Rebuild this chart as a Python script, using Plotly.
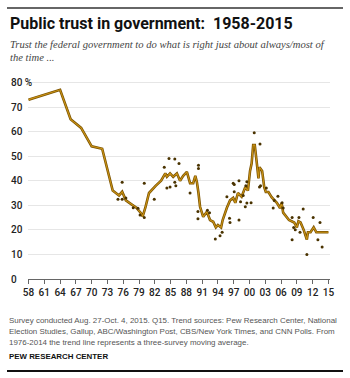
import plotly.graph_objects as go

# ---- data ----
trend_years = [1958, 1964, 1966, 1968, 1970, 1972, 1974, 1975.2, 1975.8, 1976.5, 1977.5, 1978.5,
               1979.3, 1979.7, 1980.2, 1980.9, 1982.2, 1983.2, 1984.0, 1984.3, 1984.9, 1985.5,
               1986.2, 1986.8, 1987.4, 1988.1, 1988.7, 1989.3, 1989.7, 1990.0, 1990.3, 1990.6,
               1991.2, 1991.9, 1992.5, 1993.1, 1993.6, 1994.0, 1994.6, 1994.9, 1995.7, 1996.3,
               1996.9, 1997.3, 1997.8, 1998.5, 1999.2, 1999.7, 2000.1, 2000.4, 2000.7, 2001.0,
               2001.4, 2001.6, 2001.7, 2001.9, 2002.4, 2002.8, 2003.1, 2003.6, 2004.2, 2005.2,
               2005.8, 2006.1, 2006.4, 2007.5, 2008.5, 2009.0, 2009.3, 2009.7, 2010.3, 2010.9,
               2011.1, 2011.6, 2012.2, 2012.7, 2013.5, 2014.0, 2015.0]
trend_values = [73, 77, 65, 61.5, 54, 53, 36, 34, 35.5, 32, 30.5, 29,
                27, 25.5, 29, 35, 38, 40, 43, 41.6, 43, 41.6,
                43, 40, 42, 43.6, 39, 39, 42, 39.5, 35, 29.4,
                25.3, 27.4, 24, 23.3, 21, 22, 21, 24, 29, 32,
                33, 31, 35, 33.5, 37.4, 36, 44, 47, 54.5, 54.5,
                47, 44, 41, 45.5, 44, 37.4, 35.4, 35.4, 33.3, 31,
                28.9, 31, 27, 24, 23, 21, 23.5, 23, 20, 16,
                19, 19, 21, 19, 19, 19, 19]

survey_years = [1975.0, 1975.8, 1975.8, 1976.5, 1977.9, 1978.8, 1979.2, 1980.0, 1980.0, 1981.9,
                1983.8, 1984.3, 1984.7, 1984.9, 1985.8, 1985.8, 1986.0, 1986.6, 1988.7, 1990.3,
                1990.3, 1990.2, 1990.2, 1992.0, 1992.4, 1993.5, 1994.4, 1994.8, 1995.7, 1996.2,
                1996.3, 1996.9, 1997.1, 1997.1, 1998.0, 1998.0, 1998.3, 1998.8, 1999.3, 1999.5,
                1999.5, 1999.2, 2000.3, 2000.9, 2002.0, 2001.9, 2002.1, 2003.2, 2004.5, 2004.7,
                2005.4, 2006.2, 2006.4, 2008.1, 2008.1, 2008.4, 2008.7, 2009.4, 2009.6, 2010.2,
                2010.9, 2012.1, 2013.0, 2013.4, 2013.8]
survey_values = [32.5, 39.4, 32.5, 33, 29, 28.8, 26, 25, 39, 32.5,
                 45.5, 37, 49, 37.4, 48.8, 39.4, 38, 47, 35, 46.3,
                 45, 27.5, 24.5, 28, 27, 16.3, 17.6, 19, 33.5, 24.7,
                 23, 39, 38.5, 35.5, 40, 24, 31.4, 34, 38, 39.6,
                 30.9, 29.4, 31, 59.5, 55, 37.4, 38, 37, 28.9, 32,
                 33.7, 31, 28.9, 25, 16, 21, 20, 25, 19, 28.5,
                 10, 25, 16, 23, 13]

tick_years = list(range(1958, 2016, 3))
tick_labels = ["58", "61", "64", "67", "70", "73", "76", "79", "82", "85",
               "88", "91", "94", "97", "00", "03", "06", "09", "12", "15"]
y_ticks = [0, 10, 20, 30, 40, 50, 60, 70, 80]
y_labels = ["0", "10", "20", "30", "40", "50", "60", "70", "80\u00a0%"]

title = "Public trust in government:\u00a0 1958-2015"
subtitle = ["Trust the federal government to do what is right just about always/most of",
            "the time ..."]
note = ["Survey conducted Aug. 27-Oct. 4, 2015. Q15. Trend sources: Pew Research Center, National",
        "Election Studies, Gallup, ABC/Washington Post, CBS/New York Times, and CNN Polls. From",
        "1976-2014 the trend line represents a three-survey moving average."]
source = "PEW RESEARCH CENTER"

# ---- layout geometry (pixels) ----
W, H = 350, 378
L, R, T, B = 28, 20, 80, 99
PW, PH = W - L - R, H - T - B


def px_x(x):
    return (x - L) / PW


def px_y(y):
    return (H - B - y) / PH


fig = go.Figure()
fig.add_trace(go.Scatter(x=trend_years, y=trend_values, mode="lines",
                         line=dict(color="#7a5200", width=2.6), hoverinfo="skip"))
fig.add_trace(go.Scatter(x=trend_years, y=trend_values, mode="lines",
                         line=dict(color="#c99214", width=1.1), hoverinfo="skip"))
fig.add_trace(go.Scatter(x=survey_years, y=survey_values, mode="markers",
                         marker=dict(color="#4a3300", size=3), hoverinfo="skip"))

ann = []
ann.append(dict(text="<b>" + title + "</b>", x=px_x(8), y=px_y(24), xref="paper", yref="paper",
                xanchor="left", yanchor="middle", showarrow=False,
                font=dict(family="Roboto, sans-serif", size=16, color="#111")))
for i, s in enumerate(subtitle):
    ann.append(dict(text="<i>" + s + "</i>", x=px_x(8), y=px_y(44 + 13 * i), xref="paper", yref="paper",
                    xanchor="left", yanchor="middle", showarrow=False,
                    font=dict(family="Liberation Serif, serif", size=10.6, color="#444")))
for v, lab in zip(y_ticks, y_labels):
    ann.append(dict(text=lab, x=px_x(9), y=v, xref="paper", yref="y",
                    xanchor="left", yanchor="middle", showarrow=False,
                    font=dict(family="Roboto, sans-serif", size=10, color="#222", weight=500)))
for i, s in enumerate(note):
    ann.append(dict(text=s, x=px_x(7), y=px_y(320 + 11 * i), xref="paper", yref="paper",
                    xanchor="left", yanchor="middle", showarrow=False,
                    font=dict(family="Liberation Sans, sans-serif", size=7.95, color="#555")))
ann.append(dict(text="<b>" + source + "</b>", x=px_x(7), y=px_y(356), xref="paper", yref="paper",
                xanchor="left", yanchor="middle", showarrow=False,
                font=dict(family="Liberation Sans, sans-serif", size=7.9, color="#111")))

shapes = [
    dict(type="line", xref="paper", yref="paper", x0=px_x(7), x1=px_x(343), y0=px_y(8), y1=px_y(8),
         line=dict(color="#333", width=1.5)),
    dict(type="line", xref="paper", yref="paper", x0=px_x(7), x1=px_x(343), y0=px_y(371), y1=px_y(371),
         line=dict(color="#111", width=2)),
]

fig.update_layout(
    width=W, height=H, margin=dict(l=L, r=R, t=T, b=B),
    paper_bgcolor="white", plot_bgcolor="white", showlegend=False,
    annotations=ann, shapes=shapes,
    xaxis=dict(range=[1957.9, 2015.3], tickvals=tick_years, ticktext=tick_labels,
               showgrid=False, zeroline=False, showline=True, linecolor="#666", linewidth=1,
               ticks="outside", ticklen=4, tickcolor="#666",
               tickfont=dict(family="Roboto, sans-serif", size=10, color="#222", weight=500)),
    yaxis=dict(range=[0, 81], tickvals=y_ticks, showticklabels=False, showgrid=True,
               gridcolor="#e6e6e6", gridwidth=1, zeroline=False, showline=False),
)

fig.write_html("out.html")
